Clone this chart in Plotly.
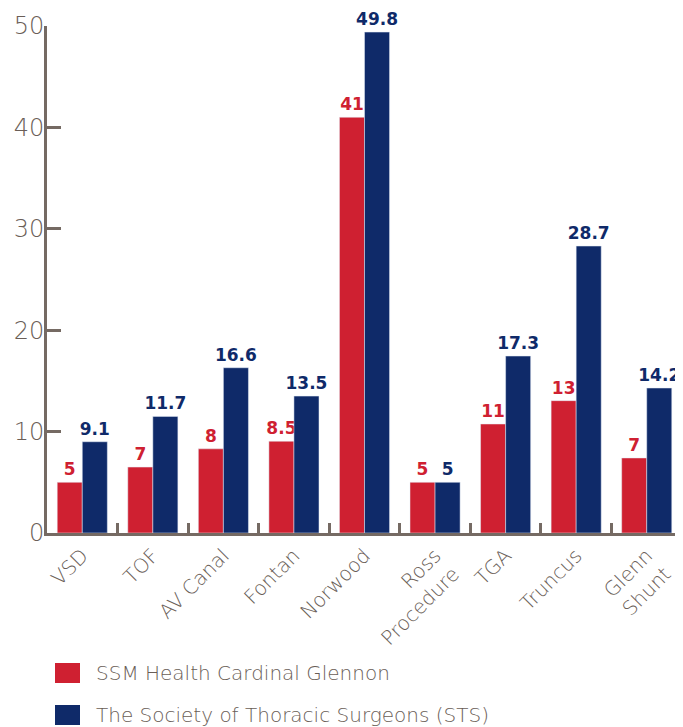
import plotly.graph_objects as go

# categories and values
procedures = ["VSD", "TOF", "AV Canal", "Fontan", "Norwood",
              "Ross<br>Procedure", "TGA", "Truncus", "Glenn<br>Shunt"]

ssm_name = "SSM Health Cardinal Glennon"
ssm_values = [5.0, 6.5, 8.3, 9.05, 41.0, 5.0, 10.75, 13.05, 7.4]
ssm_labels = ["5", "7", "8", "8.5", "41", "5", "11", "13", "7"]

sts_name = "The Society of Thoracic Surgeons (STS)"
sts_values = [9.0, 11.5, 16.3, 13.5, 49.4, 5.0, 17.45, 28.3, 14.3]
sts_labels = ["9.1", "11.7", "16.6", "13.5", "49.8", "5", "17.3", "28.7", "14.2"]

y_ticks = [0, 10, 20, 30, 40, 50]

RED = "#CF2031"
BLUE = "#0F2A69"
GREY = "#756A63"
TEXT_GREY = "#6A5E57"
LIGHT_FONT = "DejaVu Sans"

# the page puts the figure 8px in from the corner, so margins are shifted by that
W, H = 683, 727
L, R, T, B = 39, 9, 18, 202
pw, ph = W - L - R, H - T - B


def px_to_paper(x, y):
    # pixel position in the screenshot -> paper coords of the plot area
    return (x - 8 - L) / pw, (H - B - (y - 8)) / ph


fig = go.Figure()

fig.add_trace(go.Bar(
    x=procedures, y=ssm_values, name=ssm_name,
    marker_color=RED, text=ssm_labels, textposition="outside",
    textfont=dict(color=RED, size=17, family="DejaVu Sans", weight=700),
    constraintext="none", cliponaxis=False,
))
fig.add_trace(go.Bar(
    x=procedures, y=sts_values, name=sts_name,
    marker_color=BLUE, text=sts_labels, textposition="outside",
    textfont=dict(color=BLUE, size=17, family="DejaVu Sans", weight=700),
    constraintext="none", cliponaxis=False,
))

# legend drawn by hand so the swatches can be as big as in the original
for i, (name, color) in enumerate([(ssm_name, RED), (sts_name, BLUE)]):
    cy = 673 + 42 * i
    x0, y0 = px_to_paper(55, cy - 10)
    x1, y1 = px_to_paper(80, cy + 10)
    fig.add_shape(type="rect", xref="paper", yref="paper",
                  x0=x0, x1=x1, y0=y0, y1=y1,
                  fillcolor=color, line_width=0)
    tx, ty = px_to_paper(94, cy)
    fig.add_annotation(xref="paper", yref="paper", x=tx, y=ty,
                       xanchor="left", yanchor="middle", showarrow=False,
                       text=name,
                       font=dict(size=20, color=TEXT_GREY, family=LIGHT_FONT, weight=300))

fig.update_layout(
    width=W, height=H,
    margin=dict(l=L, r=R, t=T, b=B, autoexpand=False),
    plot_bgcolor="white", paper_bgcolor="white",
    barmode="group", bargap=0.29, bargroupgap=0,
    font=dict(family=LIGHT_FONT, color=TEXT_GREY, weight=300),
    showlegend=False,
)

fig.update_yaxes(
    range=[0, 50], tickvals=y_ticks, showgrid=False, zeroline=False,
    showline=True, linecolor=GREY, linewidth=3, automargin=False,
    ticks="inside", ticklen=14, tickwidth=3, tickcolor=GREY,
    tickfont=dict(size=24, color=TEXT_GREY, family=LIGHT_FONT, weight=300),
    ticklabelstandoff=-5,
)
fig.update_xaxes(
    showgrid=False, showline=True, linecolor=GREY, linewidth=3, automargin=False,
    ticks="inside", tickson="boundaries", ticklen=10, tickwidth=3, tickcolor=GREY,
    tickangle=-45, tickfont=dict(size=20, color=TEXT_GREY, family=LIGHT_FONT, weight=300),
)

fig.write_html("out.html")
